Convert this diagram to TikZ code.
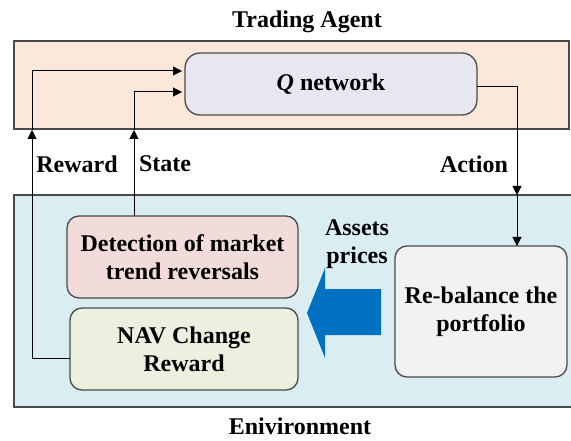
\documentclass[tikz,border=0pt]{standalone}
\usepackage{fontspec}
\setmainfont{Liberation Serif}
\usetikzlibrary{arrows.meta}
\definecolor{agentfill}{HTML}{FCE8DA}
\definecolor{envfill}{HTML}{DAEDF3}
\definecolor{qfill}{HTML}{E8E6F0}
\definecolor{detfill}{HTML}{F2DCDB}
\definecolor{navfill}{HTML}{EBF1DE}
\definecolor{rebfill}{HTML}{F2F2F2}
\definecolor{framegray}{HTML}{4A4A4A}
\definecolor{bigblue}{HTML}{0070C0}
\begin{document}
\begin{tikzpicture}[x=1pt,y=-1pt,
  frame/.style={draw=framegray, line width=1.3pt, inner sep=0pt},
  rbox/.style={draw=framegray, line width=1.3pt, rounded corners=12pt, align=center, inner sep=0pt,
    font=\bfseries\fontsize{24}{28}\selectfont},
  lbl/.style={font=\bfseries\fontsize{24}{28}\selectfont, align=center, inner sep=0pt},
  conn/.style={line width=1pt, draw=black},
  flow/.style={conn, -{Triangle[length=9pt,width=9pt]}}]
\useasboundingbox (0,0) rectangle (571,441);
% outer frames
\node[frame, fill=agentfill, minimum width=555pt, minimum height=88pt] (agent) at (291.5,85) {};
\node[frame, fill=envfill, minimum width=570pt, minimum height=212pt] (env) at (299,301) {};
% titles
\node[lbl] (tagent) at (307,22) {Trading Agent};
\node[lbl] (tenv) at (300,426) {Enivironment};
% inner boxes
\node[rbox, fill=qfill, rounded corners=15pt, minimum width=292pt, minimum height=62pt] (q) at (331,84) {\textit{Q} network};
\node[rbox, fill=detfill, minimum width=231pt, minimum height=82pt] (det) at (182.5,257) {Detection of market\\trend reversals};
\node[rbox, fill=navfill, minimum width=228pt, minimum height=82pt] (nav) at (184,349) {NAV Change\\Reward};
\node[rbox, fill=rebfill, minimum width=172pt, minimum height=131pt] (reb) at (481,311.5) {Re-balance the\\portfolio};
% labels
\node[lbl] (lreward) at (77,164) {Reward};
\node[lbl] (lstate) at (165,164) {State};
\node[lbl] (laction) at (474,164) {Action};
\node[lbl] (lassets) at (357,244) {Assets\\prices};
% big blue arrow
\fill[bigblue] (307,313) -- (325,268) -- (325,289) -- (381,289) -- (381,335) -- (325,335) -- (325,358) -- cycle;
% connector coordinates
\coordinate (navout) at (70,358);
\coordinate (rwcorner) at (32,358);
\coordinate (rwin) at (32,130);
\coordinate (rwtop) at (32,71);
\coordinate (qinr) at (182,71);
\coordinate (detout) at (134,216);
\coordinate (stin) at (134,130);
\coordinate (sttop) at (134,92);
\coordinate (qins) at (182,92);
\coordinate (qout) at (477,87);
\coordinate (accorner) at (517,87);
\coordinate (acin) at (517,195);
\coordinate (rebin) at (517,246);
% connectors
\draw[flow] (navout) -- (rwcorner) -- (rwin);
\draw[flow] (rwin) -- (rwtop) -- (qinr);
\draw[flow] (detout) -- (stin);
\draw[flow] (stin) -- (sttop) -- (qins);
\draw[flow] (qout) -- (accorner) -- (acin);
\draw[flow] (acin) -- (rebin);
\end{tikzpicture}
\end{document}
